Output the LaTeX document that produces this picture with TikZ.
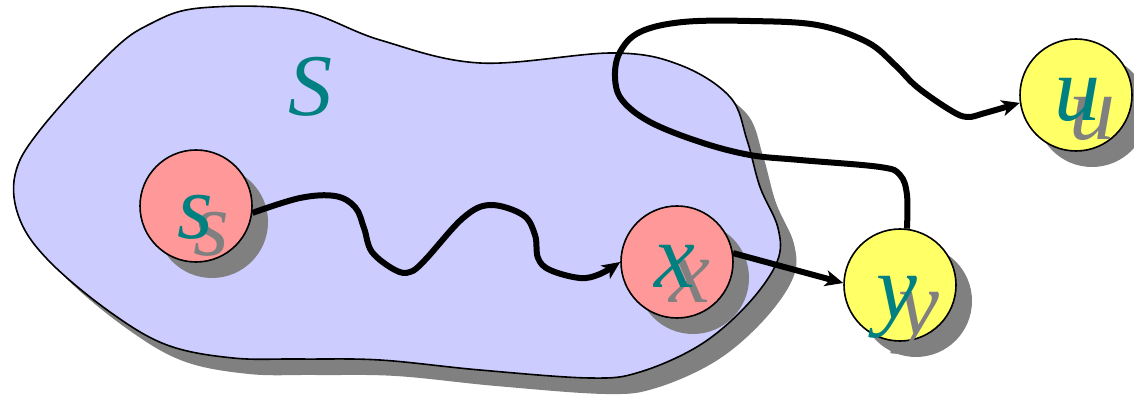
\documentclass[tikz,border=0pt]{standalone}
\usepackage{fontspec}
\setmainfont{Liberation Serif}
\usetikzlibrary{arrows.meta}
\definecolor{blobfill}{RGB}{204,204,255}
\definecolor{pinkfill}{RGB}{255,153,153}
\definecolor{yelfill}{RGB}{255,255,102}
\definecolor{teallab}{RGB}{0,128,128}
\definecolor{shadowgray}{RGB}{128,128,128}
\begin{document}
\begin{tikzpicture}[x=1pt,y=-1pt,
  vert/.style={circle, draw=black, line width=1.6pt, minimum size=112pt, inner sep=0pt},
  redv/.style={vert, fill=pinkfill},
  yelv/.style={vert, fill=yelfill},
  nshadow/.style={circle, fill=shadowgray, minimum size=112pt, inner sep=0pt},
  lab/.style={text=teallab, font=\fontsize{92}{92}\selectfont\itshape, anchor=base, inner sep=0pt},
  labsh/.style={lab, text=shadowgray},
  biglab/.style={lab, font=\fontsize{88}{88}\selectfont\itshape},
  conn/.style={line width=6pt, -{Stealth[length=18pt,width=16pt,inset=5pt]}},
  blobline/.style={draw=black, line width=1.6pt, fill=blobfill},
]
\useasboundingbox (0,0) rectangle (1134,395);
% blob shadow
\fill[shadowgray, shift={(16,16)}] plot[smooth cycle, tension=0.6] coordinates {
 (15,175) (40,130) (110,53) (150,24) (200,8) (298,10) (380,40) (480,63) (613,53) (680,65) (730,97) (747,140) (760,187) (778,228) (777,262) (747,305) (700,345) (640,372) (590,378) (480,370) (380,360) (300,359) (233,358) (167,345) (110,312) (50,262) (20,220)};
% blob
\path[blobline] plot[smooth cycle, tension=0.6] coordinates {
 (15,175) (40,130) (110,53) (150,24) (200,8) (298,10) (380,40) (480,63) (613,53) (680,65) (730,97) (747,140) (760,187) (778,228) (777,262) (747,305) (700,345) (640,372) (590,378) (480,370) (380,360) (300,359) (233,358) (167,345) (110,312) (50,262) (20,220)};
\node[biglab] (Slab) at (310,116) {S};
% node shadows
\node[nshadow] (ssh) at (212,222) {};
\node[nshadow] (xsh) at (693,278) {};
\node[nshadow] (ysh) at (916,301) {};
\node[nshadow] (ush) at (1092,111) {};
% nodes
\node[redv] (s) at (196,206) {};
\node[redv] (x) at (677,262) {};
\node[yelv] (y) at (900,285) {};
\node[yelv] (u) at (1076,95) {};
% connectors
\draw[conn] plot[smooth, tension=0.6] coordinates {(s.-7) (300,198) (335,196) (355,207) (364,228) (372,252) (395,270) (410,272) (425,260) (463,218) (490,205) (523,215) (535,235) (538,258) (550,270) (580,278) (600,274) (x.180)};
\draw[conn] (x.9) -- (y.178);
\draw[conn] plot[smooth, tension=0.6] coordinates {(y.83) (907,195) (900,175) (880,167) (800,160) (750,155) (700,142) (650,122) (622,100) (615,77) (620,52) (640,32) (683,22) (750,21) (817,25) (867,42) (895,65) (917,87) (950,110) (967,117) (985,113) (u.188)};
% labels
\node[labsh] (slsh) at (211,255) {s};
\node[lab] (slab) at (195,239) {s};
\node[labsh] (xlsh) at (690,302) {x};
\node[lab] (xlab) at (675,287) {x};
\node[labsh] (ylsh) at (919,334) {y};
\node[lab] (ylab) at (897,318) {y};
\node[labsh] (ulsh) at (1092,140) {u};
\node[lab] (ulab) at (1077,121) {u};
\end{tikzpicture}
\end{document}
